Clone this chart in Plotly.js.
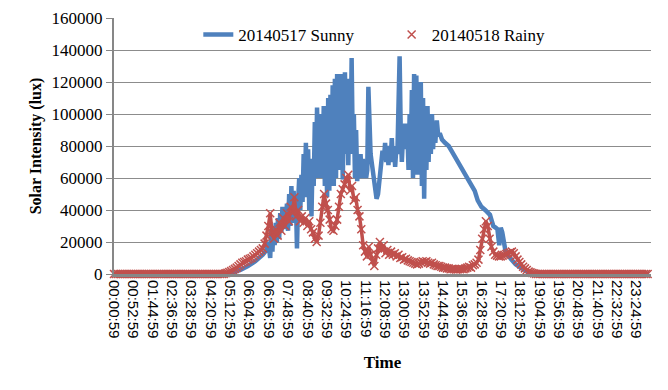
<!DOCTYPE html>
<html>
<head>
<meta charset="utf-8">
<script src="https://cdn.plot.ly/plotly-3.0.1.min.js"></script>
<style>html,body{margin:0;padding:0;background:#fff;}#chart{width:668px;height:390px;}</style>
</head>
<body>
<div id="chart"></div>
<script>
// Tick labels (every 52 minutes, minute index from 00:00:59)
const tickMinutes = [0,52,104,156,208,260,312,364,416,468,520,572,624,676,728,780,832,884,936,988,1040,1092,1144,1196,1248,1300,1352,1404];
const tickLabels = ["00:00:59","00:52:59","01:44:59","02:36:59","03:28:59","04:20:59","05:12:59","06:04:59","06:56:59","07:48:59","08:40:59","09:32:59","10:24:59","11:16:59","12:08:59","13:00:59","13:52:59","14:44:59","15:36:59","16:28:59","17:20:59","18:12:59","19:04:59","19:56:59","20:48:59","21:40:59","22:32:59","23:24:59"];

// 20140517 Sunny: minute index and lux
const sunnyMinute = [0,300,320,340,360,380,400,410,415,
420,423,426,429,432,435,438,441,444,447,450,453,456,459,462,465,468,471,474,477,480,483,486,489,492,495,498,501,504,507,510,513,516,519,522,525,528,531,534,537,540,543,546,549,552,555,558,561,564,567,570,573,576,579,582,585,588,591,594,597,600,603,606,609,612,615,618,621,624,627,630,633,636,639,642,645,648,651,654,657,660,663,666,669,672,675,678,681,684,687,690,694,698,702,706,710,714,718,722,726,729,732,735,738,741,744,747,750,753,756,759,762,765,768,771,774,777,780,783,786,789,792,795,798,801,804,807,810,813,816,819,822,825,828,831,834,837,840,843,846,849,852,855,858,861,864,868,872,876,882,890,900,910,920,930,940,950,960,970,978,988,998,1005,1011,1016,1020,1026,1031,1036,1040,1044,1048,1053,1058,1065,1072,1080,1090,1100,1110,1120,1130,1439];
const sunnyLux = [0,0,1000,2500,5000,8000,12000,15000,20000,
10000,28000,14000,30000,18000,32000,20000,35000,22000,38000,26000,42000,28000,40000,30000,44000,27000,50000,30000,55000,32000,52000,35000,48000,16000,45000,60000,40000,62000,45000,75000,50000,82000,48000,78000,40000,70000,36000,72000,55000,95000,60000,104000,62000,100000,60000,98000,65000,105000,55000,100000,48000,110000,52000,112000,58000,118000,55000,122000,60000,125000,65000,118000,70000,125000,59000,120000,126000,75000,122000,68000,110000,75000,135000,80000,100000,60000,90000,58000,70000,62000,75000,60000,72000,62000,68000,60000,65000,117000,85000,75000,68000,60000,52000,47000,50000,60000,70000,77000,72000,82000,70000,78000,68000,80000,72000,85000,70000,80000,67000,78000,75000,100000,136000,90000,70000,85000,80000,94000,78000,88000,65000,100000,70000,115000,60000,125000,75000,124000,62000,118000,70000,120000,55000,110000,47000,100000,65000,105000,70000,98000,75000,100000,78000,95000,82000,96000,86000,88000,84000,82000,80000,76000,72000,68000,65000,61000,57000,52000,46000,42000,40000,38000,37000,33000,30000,29000,28000,18000,29000,26000,20000,14000,12000,10000,8000,6000,4500,3000,1500,300,0,0];

// 20140518 Rainy: one value every 5 minutes, starting at 00:00:59
const rainyLux = [
0,0,0,0,0,0,0,0,0,0,0,0,
0,0,0,0,0,0,0,0,0,0,0,0,
0,0,0,0,0,0,0,0,0,0,0,0,
0,0,0,0,0,0,0,0,0,0,0,0,
0,0,0,0,0,0,0,0,0,0,0,0,
500,800,1200,1800,2500,3200,4000,5000,6000,7000,7500,8000,
9000,9500,10000,11000,12000,13000,14000,15000,16000,19000,24000,30000,
38000,26000,22000,28000,24000,32000,27000,35000,30000,38000,33000,42000,
38000,48000,36000,40000,33000,36000,32000,35000,30000,33000,28000,26000,
22000,20000,24000,32000,42000,50000,44000,40000,34000,28000,27000,30000,
34000,42000,50000,53000,56000,60000,62000,52000,55000,46000,48000,40000,
36000,28000,18000,14000,11000,17000,12000,8000,5000,12000,16000,20000,
15000,18000,13000,15000,12000,14000,12000,13000,11000,12000,10000,10500,
9000,9500,8500,8000,7500,7000,6500,6000,6500,7500,8000,7500,
8000,7000,6500,7000,6000,5500,5000,5000,4500,4000,4000,3500,
3500,3000,3200,3000,2800,3000,3000,3200,3000,3500,4000,4500,
4000,5500,6000,7000,9000,15000,22000,28000,33000,30000,22000,17000,
14000,12000,11500,11000,11000,11500,12000,12500,13000,13500,14000,13000,
11000,9000,7500,6000,4500,3500,2500,1500,1000,600,300,0,
0,0,0,0,0,0,0,0,0,0,0,0,
0,0,0,0,0,0,0,0,0,0,0,0,
0,0,0,0,0,0,0,0,0,0,0,0,
0,0,0,0,0,0,0,0,0,0,0,0,
0,0,0,0,0,0,0,0,0,0,0,0
];
const rainyStart = 0, rainyStep = 5;

const serif = "Liberation Serif, Times New Roman, serif";
const RED = "#C0504D", BLUE = "#4F81BD";

const traces = [
  {
    type: "scatter", mode: "lines", name: "20140517 Sunny",
    x: sunnyMinute, y: sunnyLux,
    line: {color: BLUE, width: 4.5},
    legend: "legend", hoverinfo: "skip"
  },
  {
    type: "scatter", mode: "lines", name: "rainy band", showlegend: false,
    x0: rainyStart, dx: rainyStep, y: rainyLux,
    line: {color: RED, width: 3.5},
    cliponaxis: false, hoverinfo: "skip"
  },
  {
    type: "scatter", mode: "markers", name: "20140518 Rainy",
    x0: rainyStart, dx: rainyStep, y: rainyLux,
    marker: {symbol: "x-thin", size: 8, color: RED, line: {color: RED, width: 1.5}},
    cliponaxis: false, legend: "legend2", hoverinfo: "skip"
  }
];

const legendFont = {family: serif, size: 17, color: "#000"};
const layout = {
  width: 668, height: 390,
  margin: {l: 114, r: 17, t: 18, b: 116},
  paper_bgcolor: "#ffffff", plot_bgcolor: "#ffffff",
  showlegend: true,
  legend: {
    orientation: "h", x: 0.157, y: 0.934, xanchor: "left", yanchor: "middle",
    font: legendFont, bgcolor: "rgba(0,0,0,0)"
  },
  legend2: {
    orientation: "h", x: 0.517, y: 0.934, xanchor: "left", yanchor: "middle",
    font: legendFont, bgcolor: "rgba(0,0,0,0)"
  },
  xaxis: {
    type: "linear", range: [0, 1444],
    tickmode: "array", tickvals: tickMinutes, ticktext: tickLabels,
    tickangle: 90, ticks: "",
    tickfont: {family: "Liberation Sans, Arial, sans-serif", size: 15, color: "#000"},
    showgrid: false, zeroline: false,
    showline: true, linecolor: "#878787", linewidth: 3,
    title: {text: "<b>Time</b>", font: {family: serif, size: 17, color: "#000"}, standoff: 19},
    automargin: false
  },
  yaxis: {
    range: [0, 160000], dtick: 20000, tick0: 0,
    tickformat: "d",
    ticks: "outside", ticklen: 6, tickcolor: "#878787", tickwidth: 1,
    tickfont: {family: serif, size: 17, color: "#000"},
    showgrid: true, gridcolor: "#8c8c8c", gridwidth: 1,
    zeroline: false,
    showline: true, linecolor: "#878787", linewidth: 2,
    title: {text: "<b>Solar Intensity (lux)</b>", font: {family: serif, size: 16, color: "#000"}, standoff: 6},
    automargin: false
  }
};

Plotly.newPlot("chart", traces, layout, {staticPlot: true, displayModeBar: false});
</script>
</body>
</html>
